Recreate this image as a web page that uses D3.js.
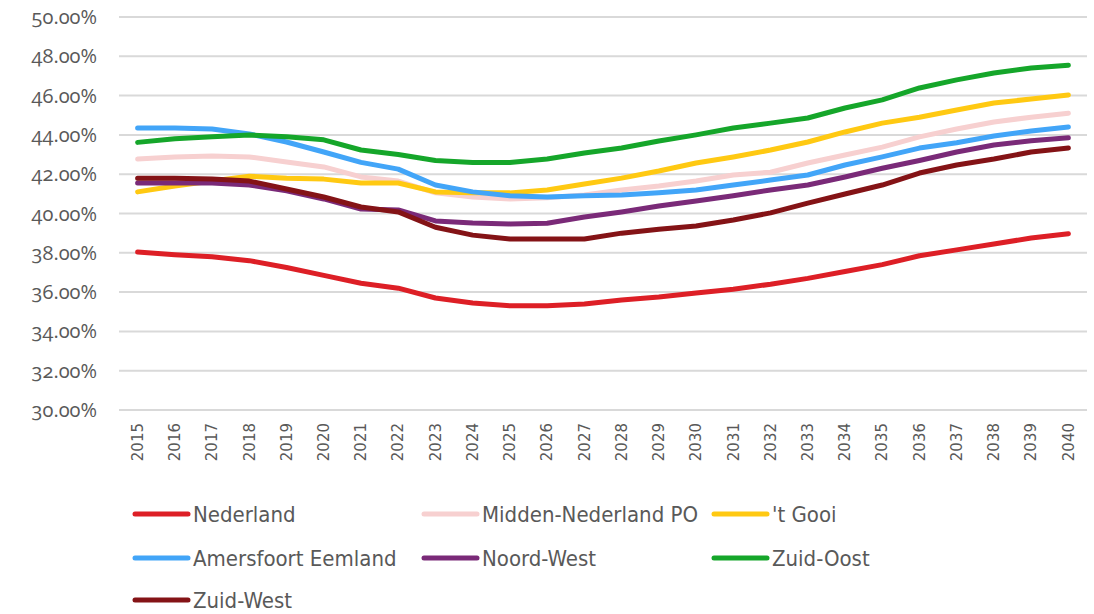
<!DOCTYPE html>
<html>
<head>
<meta charset="utf-8">
<script src="https://cdn.jsdelivr.net/npm/d3@7"></script>
<style>
  body { margin: 0; background: #fff; }
  svg { display: block; }
  .grid line { stroke: #d9d9d9; stroke-width: 2; }
  .ylab { font-family: "Open Sans", "Noto Sans", sans-serif; font-size: 20px; fill: #595959; font-feature-settings: "onum"; }
  .xlab { font-family: "DejaVu Sans", sans-serif; font-size: 15px; fill: #595959; }
  .leg text { font-family: "Liberation Sans Narrow", "DejaVu Sans Condensed", "Roboto", sans-serif; font-size: 22px; fill: #595959; }
</style>
</head>
<body>
<div id="chart"></div>
<script>
const years = d3.range(2015, 2041);
const yTicks = [30, 32, 34, 36, 38, 40, 42, 44, 46, 48, 50];

const seriesNames = ["Nederland", "Midden-Nederland PO", "'t Gooi", "Amersfoort Eemland", "Noord-West", "Zuid-Oost", "Zuid-West"];
const seriesColors = ["#dd1f26", "#f7d0d0", "#ffc912", "#42a5f8", "#7a2a78", "#15a62a", "#841316"];

const nederland = [38.04, 37.9, 37.8, 37.6, 37.25, 36.85, 36.45, 36.2, 35.7, 35.45, 35.3, 35.3, 35.4, 35.6, 35.75, 35.95, 36.15, 36.4, 36.7, 37.05, 37.4, 37.85, 38.15, 38.45, 38.75, 38.97];
const middenNederland = [42.77, 42.87, 42.93, 42.88, 42.62, 42.37, 41.86, 41.65, 41.05, 40.84, 40.74, 40.8, 40.94, 41.2, 41.4, 41.65, 41.96, 42.1, 42.57, 42.98, 43.38, 43.9, 44.3, 44.66, 44.9, 45.1];
const tGooi = [41.1, 41.4, 41.65, 41.9, 41.8, 41.75, 41.55, 41.55, 41.1, 41.05, 41.05, 41.2, 41.5, 41.8, 42.16, 42.57, 42.88, 43.23, 43.64, 44.15, 44.6, 44.9, 45.27, 45.62, 45.83, 46.03];
const amersfoort = [44.35, 44.35, 44.3, 44.05, 43.64, 43.13, 42.6, 42.26, 41.45, 41.1, 40.9, 40.84, 40.9, 40.94, 41.05, 41.2, 41.45, 41.7, 41.96, 42.47, 42.88, 43.33, 43.6, 43.94, 44.2, 44.4];
const noordWest = [41.55, 41.55, 41.55, 41.45, 41.15, 40.74, 40.23, 40.18, 39.62, 39.52, 39.47, 39.5, 39.82, 40.08, 40.38, 40.64, 40.9, 41.2, 41.45, 41.86, 42.3, 42.7, 43.13, 43.49, 43.7, 43.85];
const zuidOost = [43.62, 43.8, 43.9, 44.0, 43.9, 43.75, 43.23, 43.0, 42.7, 42.6, 42.6, 42.77, 43.08, 43.33, 43.69, 44.0, 44.35, 44.6, 44.86, 45.37, 45.78, 46.39, 46.8, 47.15, 47.4, 47.55];
const zuidWest = [41.8, 41.8, 41.75, 41.65, 41.25, 40.84, 40.33, 40.08, 39.3, 38.9, 38.7, 38.7, 38.7, 39.0, 39.2, 39.36, 39.67, 40.03, 40.53, 40.99, 41.45, 42.06, 42.47, 42.77, 43.13, 43.33];

const seriesValues = [nederland, middenNederland, tGooi, amersfoort, noordWest, zuidOost, zuidWest];

const width = 1094, height = 614;
const svg = d3.select("#chart").append("svg")
    .attr("width", width)
    .attr("height", height);

let x = d3.scaleBand()
    .domain(years)
    .range([119, 1087]);

let y = d3.scaleLinear()
    .domain([30, 50])
    .range([410, 17]);

// gridlines
svg.append("g").attr("class", "grid")
    .selectAll("line")
    .data(yTicks)
    .enter().append("line")
    .attr("x1", 119).attr("x2", 1087)
    .attr("y1", d => y(d)).attr("y2", d => y(d));

// y labels
svg.append("g")
    .selectAll("text")
    .data(yTicks)
    .enter().append("text")
    .attr("class", "ylab")
    .attr("x", 97)
    .attr("y", d => y(d))
    .attr("dy", "0.35em")
    .attr("text-anchor", "end")
    .text(d => d3.format(".2f")(d) + "%");

// x labels, rotated
svg.append("g")
    .selectAll("text")
    .data(years)
    .enter().append("text")
    .attr("class", "xlab")
    .attr("transform", d => "translate(" + (x(d) + x.bandwidth() / 2) + ",423) rotate(-90)")
    .attr("dy", "0.35em")
    .attr("text-anchor", "end")
    .text(d => d);

let line = d3.line()
    .x((d, i) => x(years[i]) + x.bandwidth() / 2)
    .y(d => y(d));

svg.append("g")
    .selectAll("path")
    .data(seriesValues)
    .enter().append("path")
    .attr("d", line)
    .attr("fill", "none")
    .attr("stroke", (d, i) => seriesColors[i])
    .attr("stroke-width", 5)
    .attr("stroke-linecap", "round")
    .attr("stroke-linejoin", "round");

// legend: 3 columns
const legCols = [135, 424, 714];
const legRows = [514, 558, 600];
let leg = svg.append("g").attr("class", "leg")
    .selectAll("g")
    .data(seriesNames)
    .enter().append("g")
    .attr("transform", (d, i) => "translate(" + legCols[i % 3] + "," + legRows[Math.floor(i / 3)] + ")");

leg.append("line")
    .attr("x1", 0).attr("x2", 53)
    .attr("stroke", (d, i) => seriesColors[i])
    .attr("stroke-width", 5)
    .attr("stroke-linecap", "round");

leg.append("text")
    .attr("x", 58)
    .attr("dy", "0.35em")
    .text(d => d);
</script>
</body>
</html>
